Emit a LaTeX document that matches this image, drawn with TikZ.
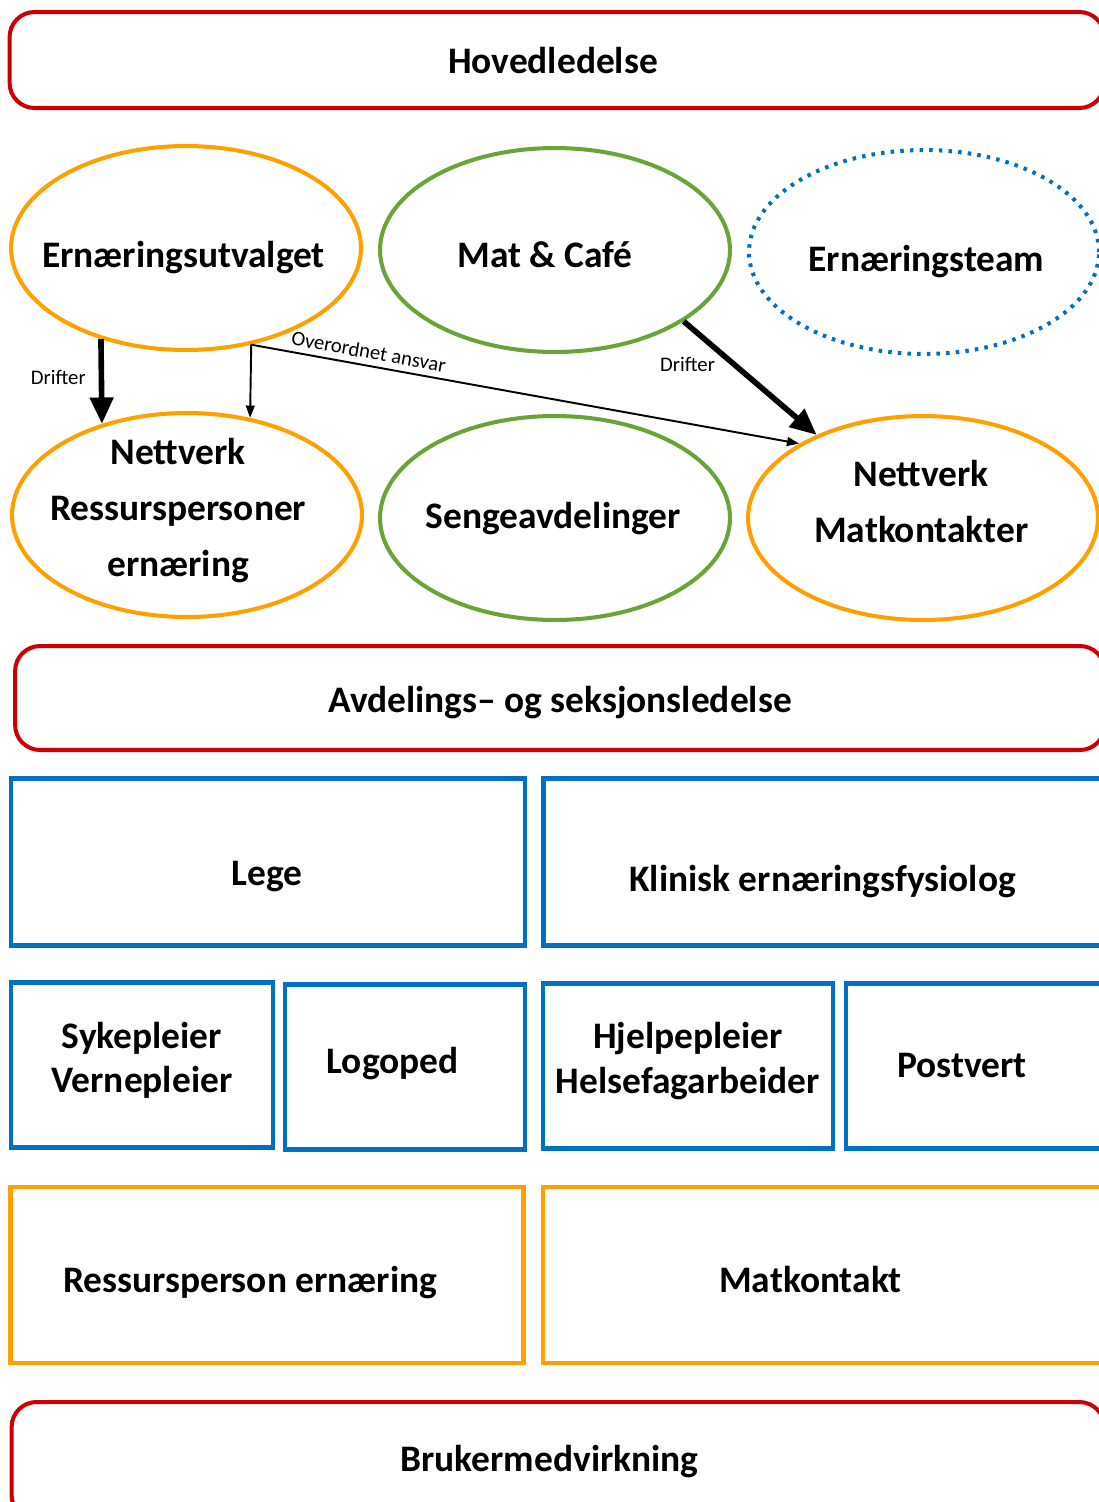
\documentclass[tikz,border=0pt]{standalone}
\usepackage{fontspec}
\setmainfont{Carlito}
\usetikzlibrary{shapes.geometric,arrows.meta}
\definecolor{rod}{RGB}{204,0,0}
\definecolor{oransje}{RGB}{255,160,0}
\definecolor{gronn}{RGB}{106,163,56}
\definecolor{bla}{RGB}{0,112,192}
% tekst flyttet: {dx}{dy}{linjer}
\newcommand\tekst[3]{\makebox[0pt]{\hspace*{#1}\raisebox{\dimexpr#2-1.2pt\relax}[0pt][0pt]{\begin{tabular}{@{}c@{}}#3\end{tabular}}\hspace*{-#1}}}
\tikzset{
  stor/.style={font=\bfseries\fontsize{21.3}{32}\selectfont, inner sep=0pt},
  sirkel/.style={ellipse, draw, line width=2.3pt, minimum width=7cm, minimum height=4.08cm, stor},
  ledelse/.style={draw=rod, line width=2.3pt, rounded corners=0.5cm, stor},
  boks/.style={draw=bla, line width=2.6pt, stor},
  ressurs/.style={draw=oransje, line width=2.6pt, stor},
  liten/.style={font=\fontsize{11.8}{14}\selectfont},
  tykk/.style={line width=3.2pt, -{Triangle[length=15pt,width=13pt]}},
  tynn/.style={line width=1.1pt, -{Triangle[length=7pt,width=5pt]}},
}
\begin{document}
\begin{tikzpicture}[x=0.02cm,y=-0.02cm]
  \useasboundingbox (0,0) rectangle (1099,1502);
  \clip (0,0) rectangle (1099,1502);

  % Ledelse
  \node[ledelse, minimum width=21.9cm, minimum height=1.92cm] (hoved) at (557,60) {\tekst{-2.3pt}{-5pt}{Hovedledelse}};

  % Ellipsene
  \node[sirkel, draw=oransje] (utvalg) at (186,248) {\tekst{-1.4pt}{-8.4pt}{Ernæringsutvalget}};
  \node[sirkel, draw=gronn] (kafe) at (555,250) {\tekst{-5.7pt}{-7.3pt}{Mat \& Café}};
  \node[sirkel, draw=bla, dash pattern=on 2pt off 3.5pt] (team) at (924,252) {\tekst{1.4pt}{-8.4pt}{Ernæringsteam}};
  \node[sirkel, draw=oransje] (nettres) at (187,515) {\tekst{-5pt}{-0.6pt}{Nettverk\\Ressurspersoner\\ernæring}};
  \node[sirkel, draw=gronn] (senge) at (555,518) {\tekst{-1pt}{-3.3pt}{Sengeavdelinger}};
  \node[sirkel, draw=oransje] (nettmat) at (923,518) {\tekst{-1pt}{4.4pt}{Nettverk\\Matkontakter}};

  % Piler mellom ellipsene
  \draw[tykk] (utvalg.227) -- (nettres.133) node[pos=0.45, left=4pt, liten] {Drifter};
  \draw[tynn] (utvalg.304) -- (nettres.57);
  \draw[tynn] (utvalg.304) -- (nettmat.149) node[pos=0.21, above, sloped, liten] {Overordnet ansvar};
  \draw[tykk] (kafe.331) -- (nettmat.142) node[pos=0.38, left=6pt, liten] {Drifter};

  % Avdeling
  \node[ledelse, minimum width=21.8cm, minimum height=2.08cm] (avd) at (560,698) {\tekst{0pt}{-6.1pt}{Avdelings-- og seksjonsledelse}};

  % Yrkesgrupper
  \node[boks, minimum width=10.28cm, minimum height=3.34cm] (lege) at (268,862) {\tekst{-0.6pt}{-11.2pt}{Lege}};
  \node[boks, minimum width=11.22cm, minimum height=3.34cm] (klinisk) at (824,862) {\tekst{-0.8pt}{-14.1pt}{Klinisk ernæringsfysiolog}};
  \node[boks, minimum width=5.24cm, minimum height=3.3cm] (syke) at (142,1065) {\tekst{0pt}{-0.7pt}{Sykepleier\\[-6.5pt]Vernepleier}};
  \node[boks, minimum width=4.8cm, minimum height=3.3cm] (logoped) at (405,1067) {\tekst{-7.1pt}{-1pt}{Logoped}};
  \node[boks, minimum width=5.8cm, minimum height=3.3cm] (hjelpe) at (688,1066) {\tekst{0pt}{-0.2pt}{Hjelpepleier\\[-6.5pt]Helsefagarbeider}};
  \node[boks, minimum width=5.28cm, minimum height=3.3cm] (postvert) at (978,1066) {\tekst{-9.1pt}{-4.4pt}{Postvert}};

  % Ressurser
  \node[ressurs, minimum width=10.26cm, minimum height=3.52cm] (ressperson) at (267,1275) {\tekst{-9.6pt}{-7.8pt}{Ressursperson ernæring}};
  \node[ressurs, minimum width=11.24cm, minimum height=3.52cm] (matkontakt) at (824,1275) {\tekst{-7.7pt}{-7.8pt}{Matkontakt}};

  % Brukere
  \node[ledelse, minimum width=21.86cm, minimum height=2.36cm] (bruker) at (558,1461) {\tekst{-4.8pt}{-3.3pt}{Brukermedvirkning}};
\end{tikzpicture}
\end{document}
